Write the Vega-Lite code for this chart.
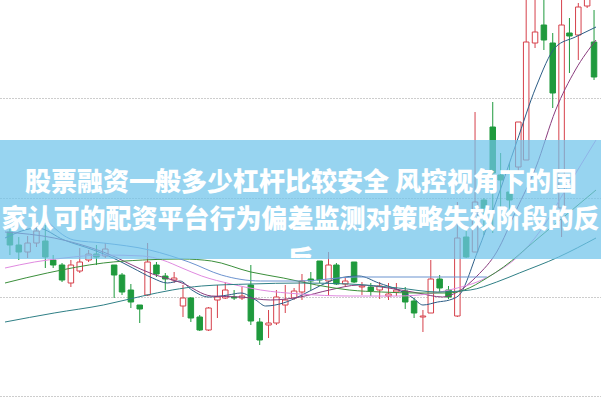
{
  "$schema": "https://vega.github.io/schema/vega-lite/v6.json",
  "width": 601,
  "height": 400,
  "padding": 0,
  "autosize": {"type": "fit", "contains": "padding"},
  "background": "#ffffff",
  "config": {
    "view": {"stroke": null},
    "axis": {"labels": false, "ticks": false, "domain": false, "grid": false},
    "axisY": {"grid": true, "gridDash": [1, 2], "gridColor": "#9a9a9a", "gridWidth": 1}
  },
  "resolve": {"scale": {"color": "independent", "stroke": "independent", "fill": "independent"}},
  "datasets": {
    "candles": [
      {"t": 5, "o": 26.8, "c": 25.5, "h": 27.1, "l": 24.5, "dir": "d"},
      {"t": 14, "o": 25.5, "c": 24.8, "h": 26.3, "l": 24.0, "dir": "d"},
      {"t": 23, "o": 24.8, "c": 25.7, "h": 26.4, "l": 24.2, "dir": "u"},
      {"t": 32, "o": 25.7, "c": 26.9, "h": 27.5, "l": 25.3, "dir": "u"},
      {"t": 41, "o": 25.9, "c": 24.3, "h": 27.5, "l": 23.2, "dir": "d"},
      {"t": 49, "o": 24.0, "c": 23.5, "h": 24.5, "l": 23.2, "dir": "d"},
      {"t": 58, "o": 23.5, "c": 22.0, "h": 23.7, "l": 21.8, "dir": "d"},
      {"t": 67, "o": 21.7, "c": 23.5, "h": 24.0, "l": 21.3, "dir": "u"},
      {"t": 76, "o": 22.9, "c": 23.8, "h": 25.2, "l": 22.7, "dir": "u"},
      {"t": 85, "o": 24.0, "c": 24.6, "h": 25.0, "l": 23.8, "dir": "u"},
      {"t": 93, "o": 24.6, "c": 24.3, "h": 25.5, "l": 23.5, "dir": "d"},
      {"t": 102, "o": 24.4, "c": 25.1, "h": 25.7, "l": 24.2, "dir": "u"},
      {"t": 111, "o": 23.5, "c": 22.5, "h": 23.5, "l": 20.2, "dir": "d"},
      {"t": 119, "o": 22.5, "c": 20.8, "h": 22.7, "l": 20.5, "dir": "d"},
      {"t": 128, "o": 21.0, "c": 19.8, "h": 21.6, "l": 19.2, "dir": "d"},
      {"t": 137, "o": 19.5, "c": 19.1, "h": 19.5, "l": 17.7, "dir": "d"},
      {"t": 145, "o": 20.5, "c": 23.8, "h": 25.7, "l": 20.4, "dir": "u"},
      {"t": 154, "o": 23.5, "c": 22.6, "h": 23.8, "l": 22.3, "dir": "d"},
      {"t": 163, "o": 22.4, "c": 22.1, "h": 22.7, "l": 21.0, "dir": "d"},
      {"t": 172, "o": 22.0, "c": 22.2, "h": 22.8, "l": 21.7, "dir": "u"},
      {"t": 181, "o": 19.4, "c": 20.2, "h": 21.5, "l": 18.3, "dir": "u"},
      {"t": 189, "o": 20.2, "c": 18.2, "h": 20.3, "l": 17.8, "dir": "d"},
      {"t": 198, "o": 18.3, "c": 17.0, "h": 18.5, "l": 16.9, "dir": "d"},
      {"t": 207, "o": 17.0, "c": 19.2, "h": 19.3, "l": 16.9, "dir": "u"},
      {"t": 216, "o": 20.0, "c": 20.3, "h": 21.5, "l": 18.2, "dir": "u"},
      {"t": 224, "o": 20.2, "c": 21.0, "h": 21.8, "l": 20.1, "dir": "u"},
      {"t": 233, "o": 20.3, "c": 20.2, "h": 21.0, "l": 20.0, "dir": "d"},
      {"t": 241, "o": 20.2, "c": 20.4, "h": 21.3, "l": 20.0, "dir": "u"},
      {"t": 250, "o": 21.5, "c": 17.9, "h": 23.5, "l": 17.5, "dir": "d"},
      {"t": 259, "o": 17.8, "c": 16.0, "h": 18.2, "l": 15.5, "dir": "d"},
      {"t": 268, "o": 17.5, "c": 17.7, "h": 19.0, "l": 16.2, "dir": "u"},
      {"t": 276, "o": 17.7, "c": 20.3, "h": 21.0, "l": 17.5, "dir": "u"},
      {"t": 285, "o": 19.5, "c": 20.0, "h": 21.5, "l": 18.7, "dir": "u"},
      {"t": 294, "o": 20.2, "c": 20.9, "h": 21.2, "l": 20.0, "dir": "u"},
      {"t": 302, "o": 20.8, "c": 21.9, "h": 22.6, "l": 20.0, "dir": "u"},
      {"t": 311, "o": 22.1, "c": 21.9, "h": 22.8, "l": 21.0, "dir": "d"},
      {"t": 320, "o": 23.9, "c": 22.0, "h": 23.9, "l": 21.7, "dir": "d"},
      {"t": 329, "o": 21.9, "c": 23.5, "h": 24.8, "l": 20.4, "dir": "u"},
      {"t": 337, "o": 23.5, "c": 21.6, "h": 23.7, "l": 21.5, "dir": "d"},
      {"t": 346, "o": 21.6, "c": 21.9, "h": 22.3, "l": 21.3, "dir": "u"},
      {"t": 355, "o": 23.8, "c": 21.8, "h": 23.8, "l": 21.7, "dir": "d"},
      {"t": 363, "o": 21.3, "c": 21.4, "h": 21.8, "l": 20.5, "dir": "u"},
      {"t": 372, "o": 21.3, "c": 20.9, "h": 21.7, "l": 20.4, "dir": "d"},
      {"t": 381, "o": 21.0, "c": 21.4, "h": 21.8, "l": 20.1, "dir": "u"},
      {"t": 390, "o": 20.4, "c": 20.6, "h": 21.7, "l": 20.0, "dir": "u"},
      {"t": 398, "o": 20.8, "c": 21.0, "h": 21.7, "l": 20.4, "dir": "u"},
      {"t": 407, "o": 20.9, "c": 19.8, "h": 21.3, "l": 19.1, "dir": "d"},
      {"t": 416, "o": 19.9, "c": 18.7, "h": 20.2, "l": 18.2, "dir": "d"},
      {"t": 425, "o": 18.3, "c": 18.4, "h": 19.0, "l": 16.8, "dir": "u"},
      {"t": 433, "o": 18.7, "c": 22.1, "h": 24.0, "l": 18.7, "dir": "u"},
      {"t": 442, "o": 22.1, "c": 21.2, "h": 22.5, "l": 20.8, "dir": "d"},
      {"t": 451, "o": 21.0, "c": 20.3, "h": 21.4, "l": 20.1, "dir": "d"},
      {"t": 460, "o": 18.4, "c": 26.2, "h": 29.8, "l": 18.3, "dir": "u"},
      {"t": 469, "o": 26.3, "c": 24.3, "h": 27.3, "l": 24.2, "dir": "d"},
      {"t": 478, "o": 24.8, "c": 29.8, "h": 38.8, "l": 24.8, "dir": "u"},
      {"t": 487, "o": 30.0, "c": 29.2, "h": 30.2, "l": 26.5, "dir": "d"},
      {"t": 496, "o": 37.3, "c": 32.7, "h": 39.8, "l": 26.7, "dir": "d"},
      {"t": 504, "o": 32.5, "c": 32.0, "h": 34.7, "l": 29.3, "dir": "d"},
      {"t": 513, "o": 30.8, "c": 30.0, "h": 33.7, "l": 28.7, "dir": "d"},
      {"t": 522, "o": 33.3, "c": 37.8, "h": 37.8, "l": 32.7, "dir": "u"},
      {"t": 530, "o": 34.0, "c": 45.8, "h": 51.0, "l": 34.0, "dir": "u"},
      {"t": 539, "o": 45.7, "c": 46.8, "h": 51.0, "l": 45.2, "dir": "u"},
      {"t": 548, "o": 47.5, "c": 46.0, "h": 51.0, "l": 45.0, "dir": "d"},
      {"t": 557, "o": 45.7, "c": 40.7, "h": 46.7, "l": 39.2, "dir": "d"},
      {"t": 566, "o": 29.2, "c": 47.5, "h": 51.0, "l": 26.3, "dir": "u"},
      {"t": 574, "o": 46.7, "c": 46.4, "h": 48.2, "l": 42.7, "dir": "d"},
      {"t": 583, "o": 46.5, "c": 49.3, "h": 49.7, "l": 44.0, "dir": "u"},
      {"t": 592, "o": 49.4, "c": 50.5, "h": 52.0, "l": 49.2, "dir": "u"},
      {"t": 599, "o": 45.8, "c": 42.3, "h": 49.0, "l": 42.0, "dir": "d"}
    ],
    "ma": [
      {"s": "MA5", "t": 0, "v": 26.2}, {"s": "MA5", "t": 33, "v": 27.2}, {"s": "MA5", "t": 60, "v": 26.0},
      {"s": "MA5", "t": 90, "v": 25.0}, {"s": "MA5", "t": 110, "v": 24.2}, {"s": "MA5", "t": 130, "v": 23.2},
      {"s": "MA5", "t": 150, "v": 22.2}, {"s": "MA5", "t": 165, "v": 21.7}, {"s": "MA5", "t": 178, "v": 21.9},
      {"s": "MA5", "t": 190, "v": 21.0}, {"s": "MA5", "t": 207, "v": 20.3}, {"s": "MA5", "t": 227, "v": 20.5},
      {"s": "MA5", "t": 240, "v": 20.7}, {"s": "MA5", "t": 255, "v": 20.0}, {"s": "MA5", "t": 265, "v": 19.4},
      {"s": "MA5", "t": 283, "v": 19.7}, {"s": "MA5", "t": 300, "v": 20.4}, {"s": "MA5", "t": 320, "v": 21.4},
      {"s": "MA5", "t": 340, "v": 22.2}, {"s": "MA5", "t": 360, "v": 22.4}, {"s": "MA5", "t": 380, "v": 21.7},
      {"s": "MA5", "t": 400, "v": 21.0}, {"s": "MA5", "t": 415, "v": 20.2}, {"s": "MA5", "t": 425, "v": 19.5},
      {"s": "MA5", "t": 440, "v": 19.8}, {"s": "MA5", "t": 452, "v": 20.0}, {"s": "MA5", "t": 462, "v": 20.5},
      {"s": "MA5", "t": 480, "v": 24.7}, {"s": "MA5", "t": 500, "v": 30.0}, {"s": "MA5", "t": 520, "v": 35.7},
      {"s": "MA5", "t": 540, "v": 41.3}, {"s": "MA5", "t": 560, "v": 45.3}, {"s": "MA5", "t": 580, "v": 46.3},
      {"s": "MA5", "t": 601, "v": 47.3},
      {"s": "MA10", "t": 0, "v": 26.8}, {"s": "MA10", "t": 50, "v": 26.2}, {"s": "MA10", "t": 100, "v": 24.8},
      {"s": "MA10", "t": 150, "v": 22.6}, {"s": "MA10", "t": 180, "v": 21.7}, {"s": "MA10", "t": 210, "v": 20.4},
      {"s": "MA10", "t": 240, "v": 20.3}, {"s": "MA10", "t": 270, "v": 20.0}, {"s": "MA10", "t": 300, "v": 20.3},
      {"s": "MA10", "t": 330, "v": 21.0}, {"s": "MA10", "t": 360, "v": 21.5}, {"s": "MA10", "t": 390, "v": 21.2},
      {"s": "MA10", "t": 420, "v": 20.7}, {"s": "MA10", "t": 445, "v": 20.3}, {"s": "MA10", "t": 460, "v": 20.8},
      {"s": "MA10", "t": 480, "v": 22.4}, {"s": "MA10", "t": 500, "v": 24.8}, {"s": "MA10", "t": 520, "v": 29.0},
      {"s": "MA10", "t": 540, "v": 33.3}, {"s": "MA10", "t": 560, "v": 39.0}, {"s": "MA10", "t": 580, "v": 43.0},
      {"s": "MA10", "t": 601, "v": 46.0},
      {"s": "MA20", "t": 0, "v": 23.2}, {"s": "MA20", "t": 30, "v": 23.8}, {"s": "MA20", "t": 60, "v": 24.2},
      {"s": "MA20", "t": 100, "v": 24.5}, {"s": "MA20", "t": 140, "v": 24.4}, {"s": "MA20", "t": 160, "v": 24.0},
      {"s": "MA20", "t": 180, "v": 23.2}, {"s": "MA20", "t": 200, "v": 22.4}, {"s": "MA20", "t": 230, "v": 21.6},
      {"s": "MA20", "t": 260, "v": 21.0}, {"s": "MA20", "t": 300, "v": 20.6}, {"s": "MA20", "t": 350, "v": 20.4},
      {"s": "MA20", "t": 400, "v": 20.4}, {"s": "MA20", "t": 430, "v": 20.6}, {"s": "MA20", "t": 460, "v": 21.2},
      {"s": "MA20", "t": 480, "v": 21.8}, {"s": "MA20", "t": 500, "v": 22.8}, {"s": "MA20", "t": 520, "v": 24.2},
      {"s": "MA20", "t": 545, "v": 27.0}, {"s": "MA20", "t": 570, "v": 31.0}, {"s": "MA20", "t": 601, "v": 36.0},
      {"s": "MA30", "t": 0, "v": 21.7}, {"s": "MA30", "t": 43, "v": 22.7}, {"s": "MA30", "t": 100, "v": 23.7},
      {"s": "MA30", "t": 140, "v": 24.0}, {"s": "MA30", "t": 180, "v": 24.1}, {"s": "MA30", "t": 210, "v": 23.9},
      {"s": "MA30", "t": 250, "v": 22.8}, {"s": "MA30", "t": 283, "v": 22.2}, {"s": "MA30", "t": 317, "v": 21.5},
      {"s": "MA30", "t": 350, "v": 21.0}, {"s": "MA30", "t": 383, "v": 20.8}, {"s": "MA30", "t": 420, "v": 20.7},
      {"s": "MA30", "t": 450, "v": 20.7}, {"s": "MA30", "t": 467, "v": 21.0}, {"s": "MA30", "t": 490, "v": 22.2},
      {"s": "MA30", "t": 507, "v": 23.3}, {"s": "MA30", "t": 540, "v": 26.0}, {"s": "MA30", "t": 573, "v": 28.7},
      {"s": "MA30", "t": 601, "v": 31.0},
      {"s": "MA60", "t": 0, "v": 17.8}, {"s": "MA60", "t": 50, "v": 18.7}, {"s": "MA60", "t": 100, "v": 19.5},
      {"s": "MA60", "t": 140, "v": 20.4}, {"s": "MA60", "t": 170, "v": 21.0}, {"s": "MA60", "t": 200, "v": 21.4},
      {"s": "MA60", "t": 250, "v": 21.6}, {"s": "MA60", "t": 300, "v": 21.7}, {"s": "MA60", "t": 350, "v": 21.6},
      {"s": "MA60", "t": 400, "v": 21.2}, {"s": "MA60", "t": 440, "v": 20.8}, {"s": "MA60", "t": 473, "v": 21.0},
      {"s": "MA60", "t": 500, "v": 21.8}, {"s": "MA60", "t": 523, "v": 22.7}, {"s": "MA60", "t": 563, "v": 24.3},
      {"s": "MA60", "t": 601, "v": 26.2},
      {"s": "MA120", "t": 40, "v": 28.2}, {"s": "MA120", "t": 70, "v": 26.0}, {"s": "MA120", "t": 100, "v": 25.7},
      {"s": "MA120", "t": 147, "v": 25.0}, {"s": "MA120", "t": 187, "v": 23.8}, {"s": "MA120", "t": 220, "v": 22.5},
      {"s": "MA120", "t": 260, "v": 21.9}, {"s": "MA120", "t": 300, "v": 21.9}, {"s": "MA120", "t": 357, "v": 22.3},
      {"s": "MA120", "t": 490, "v": 22.3}
    ],
    "banner": [{"top": 36.0, "bottom": 24.1}]
  },
  "layer": [
    {
      "data": {"name": "candles"},
      "mark": {"type": "rule", "strokeWidth": 1, "clip": true},
      "encoding": {
        "x": {"field": "t", "type": "quantitative", "scale": {"domain": [0, 601], "nice": false, "zero": false}, "axis": null},
        "y": {"field": "l", "type": "quantitative", "scale": {"domain": [10, 50], "nice": false, "zero": false}, "title": null, "axis": {"values": [10.4, 20.3, 30.2, 40.2]}},
        "y2": {"field": "h"},
        "color": {"field": "dir", "type": "nominal", "scale": {"domain": ["u", "d"], "range": ["#d6404b", "#1f9a3d"]}, "legend": null}
      }
    },
    {
      "data": {"name": "candles"},
      "mark": {"type": "bar", "width": 5.5, "strokeWidth": 1, "clip": true},
      "encoding": {
        "x": {"field": "t", "type": "quantitative"},
        "y": {"field": "o", "type": "quantitative", "title": null},
        "y2": {"field": "c"},
        "stroke": {"field": "dir", "type": "nominal", "scale": {"domain": ["u", "d"], "range": ["#d6404b", "#1f9a3d"]}, "legend": null},
        "fill": {"field": "dir", "type": "nominal", "scale": {"domain": ["u", "d"], "range": ["#ffffff", "#1f9a3d"]}, "legend": null}
      }
    },
    {
      "data": {"name": "ma"},
      "mark": {"type": "line", "strokeWidth": 1, "interpolate": "monotone", "clip": true},
      "encoding": {
        "x": {"field": "t", "type": "quantitative"},
        "y": {"field": "v", "type": "quantitative", "title": null},
        "detail": {"field": "s"},
        "color": {"field": "s", "type": "nominal", "scale": {"domain": ["MA5", "MA10", "MA20", "MA30", "MA60", "MA120"], "range": ["#2c5d86", "#8a3c7e", "#e08ae0", "#3b8f3b", "#2f7f86", "#6b93cf"]}, "legend": null}
      }
    },
    {
      "data": {"name": "banner"},
      "mark": {"type": "rect", "color": "#6fc3ea", "opacity": 0.72},
      "encoding": {
        "y": {"field": "top", "type": "quantitative", "title": null},
        "y2": {"field": "bottom"}
      }
    },
    {
      "data": {"name": "banner"},
      "mark": {"type": "text", "text": "股票融资一般多少杠杆比较安全 风控视角下的国", "font": "Noto Sans CJK SC", "fontWeight": 900, "fontSize": 26, "color": "#ffffff", "align": "center", "baseline": "middle"},
      "encoding": {
        "x": {"datum": 301, "type": "quantitative"},
        "y": {"datum": 31.75, "type": "quantitative"}
      }
    },
    {
      "data": {"name": "banner"},
      "mark": {"type": "text", "text": "家认可的配资平台行为偏差监测对策略失效阶段的反", "font": "Noto Sans CJK SC", "fontWeight": 900, "fontSize": 26, "color": "#ffffff", "align": "center", "baseline": "middle"},
      "encoding": {
        "x": {"datum": 300.5, "type": "quantitative"},
        "y": {"datum": 28.0, "type": "quantitative"}
      }
    },
    {
      "data": {"name": "banner"},
      "mark": {"type": "text", "text": "反", "font": "Noto Sans CJK SC", "fontWeight": 900, "fontSize": 26, "align": "center", "baseline": "middle",
        "fill": {"gradient": "linear", "x1": 0, "y1": 0, "x2": 0, "y2": 1, "stops": [
          {"offset": 0, "color": "#ffffff"},
          {"offset": 0.53, "color": "#ffffff"},
          {"offset": 0.53, "color": "rgba(255,255,255,0)"},
          {"offset": 1, "color": "rgba(255,255,255,0)"}
        ]}},
      "encoding": {
        "x": {"datum": 300.5, "type": "quantitative"},
        "y": {"datum": 23.95, "type": "quantitative"}
      }
    }
  ]
}
